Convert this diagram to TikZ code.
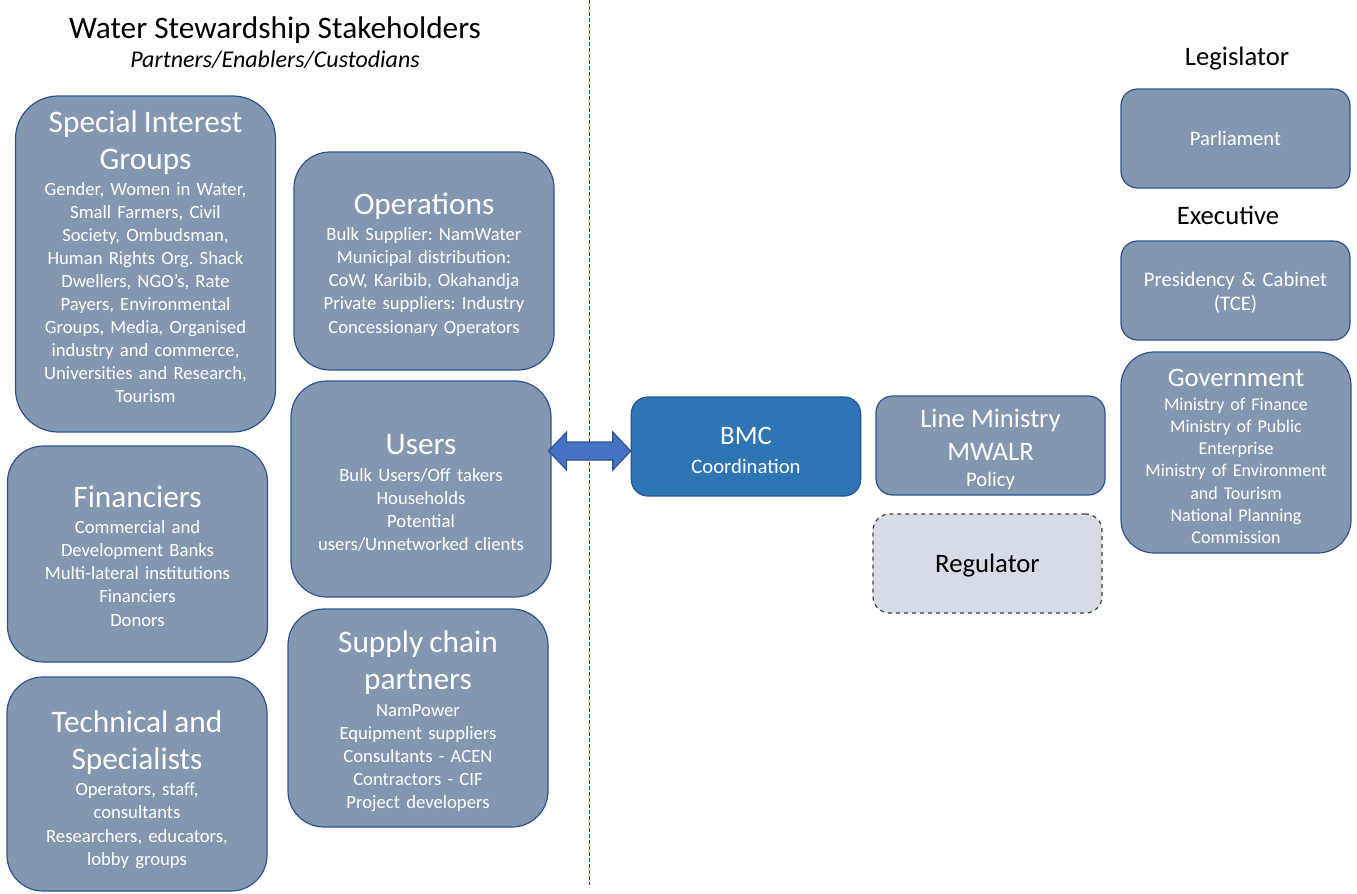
\documentclass[tikz,border=0pt]{standalone}
\usepackage{fontspec}
\setmainfont{Carlito}
\usetikzlibrary{calc}

\definecolor{boxfill}{HTML}{8497B0}
\definecolor{boxline}{HTML}{2F528F}
\definecolor{bmcfill}{HTML}{2E75B6}
\definecolor{arrowfill}{HTML}{4472C4}
\definecolor{regfill}{HTML}{D6DCE5}
\definecolor{regline}{HTML}{404040}
\definecolor{divider}{HTML}{C00000}

% type sizes used in the boxes
\newcommand\hdsize{\fontsize{23.5}{28}\selectfont}
\newcommand\midsize{\fontsize{20}{25}\selectfont}
\newcommand\bdsize{\fontsize{14}{17.3}\selectfont}
\newcommand\smsize{\fontsize{15.5}{18.3}\selectfont}
\newcommand\govsize{\fontsize{13.5}{16.6}\selectfont}
% trailing space below the text of a box: a positive amount lifts the
% centred text block by half of it, a negative amount lowers it
\newcommand\tailgap[1]{\par\vspace*{#1}}

\frenchspacing
\begin{document}
\begin{tikzpicture}[x=0.75pt,y=-0.75pt,
  group/.style={draw=boxline, line width=0.9pt, fill=boxfill, text=white,
    align=center, inner sep=0pt, rounded corners=27pt,
    text width=195pt, minimum height=162pt, font=\bdsize},
  smallbox/.style={group, rounded corners=12.4pt, text width=172pt, minimum height=74.25pt},
  label/.style={anchor=base, inner sep=0pt},
  twoway/.style={draw=boxline, line width=0.9pt, fill=arrowfill, line join=miter},
]
\useasboundingbox (0,0) rectangle (1357,893);

% dividing line between the two halves
\draw[divider, line width=0.75pt, dash pattern=on 3pt off 1.5pt] (589,0) -- (589,885);

% headings
\node[label, font=\fontsize{23.5}{28}\selectfont] (title) at (275,38) {Water Stewardship Stakeholders};
\node[label, font=\fontsize{18}{21}\selectfont\itshape] (subtitle) at (275,67) {Partners/Enablers/Custodians};
\node[label, font=\midsize] (legis) at (1237,65) {Legislator};
\node[label, font=\midsize] (exec) at (1228,224) {Executive};

% stakeholder groups, left column
\node[group, minimum height=252pt, rounded corners=32pt] (sig) at (145.5,264) {%
  {\hdsize Special Interest\\Groups\par}\vspace{2pt}
  Gender, Women in Water,\\Small Farmers, Civil\\Society, Ombudsman,\\Human Rights Org. Shack\\Dwellers, NGO’s, Rate\\Payers, Environmental\\Groups, Media, Organised\\industry and commerce,\\Universities and Research,\\Tourism\tailgap{11pt}};
\node[group] (fin) at (137.5,554) {%
  {\hdsize Financiers\par}\vspace{2.5pt}
  Commercial and\\Development Banks\\Multi-lateral institutions\\Financiers\\Donors\tailgap{-3pt}};
\node[group, minimum height=160.5pt] (tech) at (137,784) {%
  {\hdsize Technical and\\Specialists\par}\vspace{2.5pt}
  Operators, staff,\\consultants\\Researchers, educators,\\lobby groups\tailgap{-8pt}};

% stakeholder groups, second column
\node[group, minimum height=163.5pt] (ops) at (424,261) {%
  {\hdsize Operations\par}\vspace{2.5pt}
  Bulk Supplier: NamWater\\Municipal distribution:\\CoW, Karibib, Okahandja\\Private suppliers: Industry\\Concessionary Operators\tailgap{-5pt}};
\node[group] (users) at (421,489) {%
  {\hdsize Users\par}\vspace{2.5pt}
  Bulk Users/Off takers\\Households\\Potential\\users/Unnetworked clients\tailgap{-6pt}};
\node[group, minimum height=163.5pt] (supply) at (418,718) {%
  {\hdsize Supply chain\\partners\par}\vspace{2.5pt}
  NamPower\\Equipment suppliers\\Consultants - ACEN\\Contractors - CIF\\Project developers\tailgap{-5pt}};

% coordination body
\node[smallbox, fill=bmcfill] (bmc) at (746,446.5) {%
  {\midsize BMC\par}\vspace{4.5pt}
  {\smsize Coordination}\tailgap{-6pt}};

% state institutions
\node[smallbox, text width=171.75pt] (line) at (990.5,445.5) {%
  {\midsize Line Ministry\\MWALR\par}\vspace{2.5pt}
  {\smsize Policy}\tailgap{-6pt}};
\node[smallbox, text width=171.75pt, fill=regfill, draw=regline, dashed, text=black, font=\midsize] (reg) at (987.5,563.5) {Regulator\tailgap{-9pt}};
\node[smallbox, text width=171.75pt, font=\smsize] (parl) at (1235.5,138.5) {Parliament};
\node[smallbox, text width=171.75pt, font=\smsize] (pres) at (1235.5,290.5) {Presidency \& Cabinet\\(TCE)\tailgap{-3.5pt}};
\node[group, text width=172.5pt, minimum height=150.75pt, rounded corners=25pt, font=\govsize] (gov) at (1236,452.5) {%
  {\midsize Government\par}\vspace{1.75pt}
  Ministry of Finance\\Ministry of Public\\Enterprise\\Ministry of Environment\\and Tourism\\National Planning\\Commission\tailgap{-5.5pt}};

% two-way block arrow between users and the BMC
\coordinate (aL) at ($(users.east |- bmc.west)+(-3,4.5)$);
\coordinate (aR) at ($(bmc.west)+(0,4.5)$);
\draw[twoway] (aL) -- ++(18,-19) -- ++(0,10) -- ($(aR)+(-18,-9)$) -- ++(0,-10)
  -- (aR) -- ++(-18,19) -- ++(0,-10) -- ($(aL)+(18,9)$) -- ++(0,10) -- cycle;
\end{tikzpicture}
\end{document}
